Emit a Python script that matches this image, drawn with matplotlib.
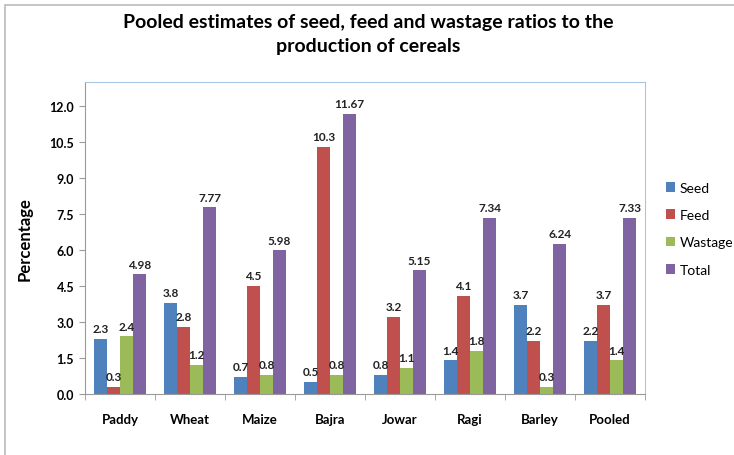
import numpy as np
import matplotlib
matplotlib.use("Agg")
import matplotlib.pyplot as plt
from matplotlib.patches import Rectangle

plt.rcParams['font.family'] = ['Lato', 'DejaVu Sans']

categories = ['Paddy', 'Wheat', 'Maize', 'Bajra', 'Jowar', 'Ragi', 'Barley', 'Pooled']
seed = [2.3, 3.8, 0.7, 0.5, 0.8, 1.4, 3.7, 2.2]
feed = [0.3, 2.8, 4.5, 10.3, 3.2, 4.1, 2.2, 3.7]
wastage = [2.4, 1.2, 0.8, 0.8, 1.1, 1.8, 0.3, 1.4]
total = [4.98, 7.77, 5.98, 11.67, 5.15, 7.34, 6.24, 7.33]
seed_lbl = ['2.3', '3.8', '0.7', '0.5', '0.8', '1.4', '3.7', '2.2']
feed_lbl = ['0.3', '2.8', '4.5', '10.3', '3.2', '4.1', '2.2', '3.7']
wastage_lbl = ['2.4', '1.2', '0.8', '0.8', '1.1', '1.8', '0.3', '1.4']
total_lbl = ['4.98', '7.77', '5.98', '11.67', '5.15', '7.34', '6.24', '7.33']

series = [('Seed', seed, seed_lbl, '#4F81BD'),
          ('Feed', feed, feed_lbl, '#C0504D'),
          ('Wastage', wastage, wastage_lbl, '#9BBB59'),
          ('Total', total, total_lbl, '#8064A2')]

fig = plt.figure(figsize=(7.34, 4.56), dpi=100)
fig.patches.append(Rectangle((0.007, -0.01), 1.0, 0.997, transform=fig.transFigure,
                             fill=False, edgecolor='#BBBBBB', linewidth=1.2))
ax = fig.add_axes([0.116, 0.134, 0.763, 0.684])

x = np.arange(len(categories))
w = 0.185
for i, (name, vals, lbls, col) in enumerate(series):
    pos = x + (i - 1.5) * w
    ax.bar(pos, vals, width=w, color=col, label=name)
    for px, v, t in zip(pos, vals, lbls):
        ax.text(px, v + 0.2, t, ha='center', va='bottom', fontsize=8.5,
                fontweight='bold', color='#222222')

ax.set_xlim(-0.5, len(categories) - 0.5)
ax.set_ylim(0, 13.0)
ax.set_yticks(np.arange(0, 12.01, 1.5))
ax.set_yticklabels(['%.1f' % v for v in np.arange(0, 12.01, 1.5)],
                   fontsize=9, fontweight='bold')
ax.set_xticks(x)
ax.set_xticklabels(categories, fontsize=9.5, fontweight='bold')
ax.set_xticks(np.arange(-0.5, len(categories)), minor=True)
ax.tick_params(axis='x', which='major', length=0, pad=14)
ax.tick_params(axis='x', which='minor', length=4, color='#999999')
ax.tick_params(axis='y', length=4, color='#999999', pad=4)

for s in ['top', 'right']:
    ax.spines[s].set_color('#A9C4E4')
for s in ['left', 'bottom']:
    ax.spines[s].set_color('#999999')

ax.set_ylabel('Percentage', fontsize=12, fontweight='bold', labelpad=12)

fig.text(0.502, 0.925, 'Pooled estimates of seed, feed and wastage ratios to the\nproduction of cereals',
         ha='center', va='center', fontsize=14, fontweight='bold', linespacing=1.5)

fig.legend(loc='center left', bbox_to_anchor=(0.89, 0.496), frameon=False,
           prop={'size': 10}, handlelength=0.7, handleheight=0.7,
           handletextpad=0.3, labelspacing=1.1)

fig.savefig('out.png', dpi=100)
